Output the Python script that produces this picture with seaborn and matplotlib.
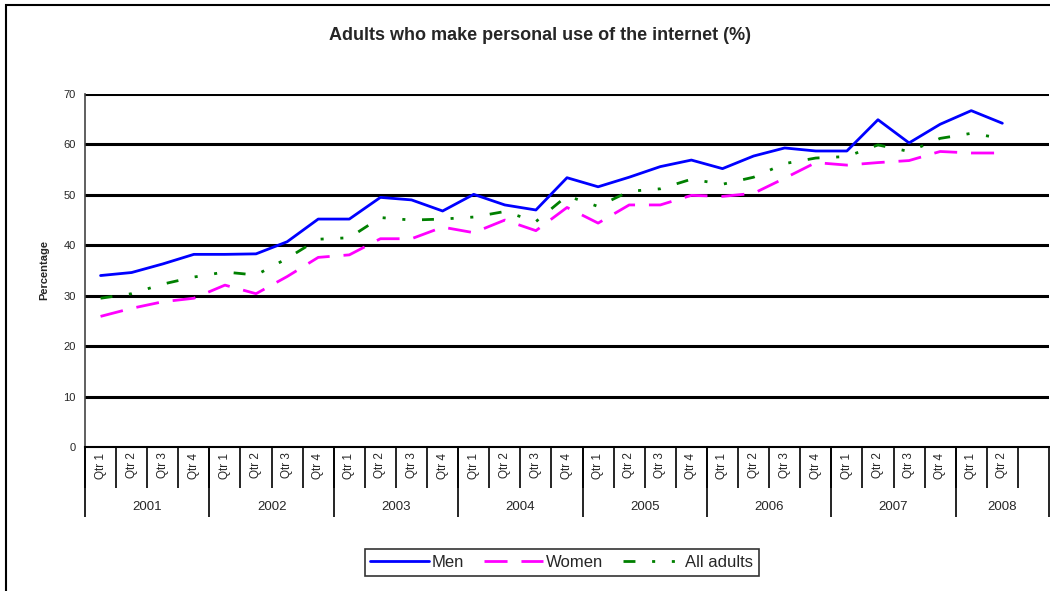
import numpy as np
import pandas as pd
import matplotlib
matplotlib.use("Agg")
import matplotlib.pyplot as plt
from matplotlib.patches import Rectangle
import seaborn as sns

# 数据
quarters = ["Qtr 1", "Qtr 2", "Qtr 3", "Qtr 4"] * 7 + ["Qtr 1", "Qtr 2"]
years = ["2001", "2002", "2003", "2004", "2005", "2006", "2007", "2008"]
men = [34.0, 34.6, 36.3, 38.2, 38.2, 38.3, 40.7, 45.2, 45.2, 49.5, 49.0, 46.8,
       50.1, 48.0, 47.0, 53.4, 51.6, 53.5, 55.6, 56.9, 55.2, 57.7, 59.3, 58.7,
       58.7, 64.9, 60.3, 64.0, 66.7, 64.2]
women = [25.9, 27.5, 28.8, 29.5, 32.1, 30.4, 33.8, 37.6, 38.1, 41.3, 41.3, 43.6,
         42.5, 45.0, 42.9, 47.5, 44.4, 48.0, 48.0, 49.9, 49.7, 50.3, 53.3, 56.4,
         55.9, 56.4, 56.8, 58.6, 58.3, 58.3]
all_adults = [29.5, 30.4, 32.3, 33.7, 34.7, 34.1, 37.4, 41.2, 41.5, 45.5, 45.0, 45.2,
              45.6, 46.7, 44.7, 49.8, 47.7, 50.7, 51.2, 53.1, 52.1, 53.5, 56.2, 57.3,
              57.6, 59.9, 58.6, 61.2, 62.2, 61.2]
series_names = ["Men", "Women", "All adults"]

n = len(quarters)
n_slots = n + 1  # 2008 组占三个位置，最后一个为空

df = pd.DataFrame({
    "idx": np.tile(np.arange(n), 3),
    "value": men + women + all_adults,
    "series": np.repeat(series_names, n),
})

sns.set_style("white")
plt.rcParams["font.family"] = ["Liberation Sans", "DejaVu Sans"]

fig = plt.figure(figsize=(10.5, 5.91), dpi=100)
ax = fig.add_axes([85 / 1050, 1 - 447 / 591, 964 / 1050, 353 / 591])

palette = {"Men": "#0000FF", "Women": "#FF00FF", "All adults": "#008000"}
dashes = {"Men": "", "Women": (8.3, 5), "All adults": (4.3, 6, 1.1, 6, 1.1, 6)}
sns.lineplot(data=df, x="idx", y="value", hue="series", style="series",
             palette=palette, dashes=dashes, linewidth=2, ax=ax)

ax.set_xlim(-0.5, n_slots - 0.5)
ax.set_ylim(0, 70)

# 网格线
ax.set_yticks(np.arange(0, 71, 10))
for v in np.arange(10, 71, 10):
    ax.axhline(v, color="black", lw=2.2, zorder=0.5)
ax.tick_params(axis="y", direction="out", length=3.6, width=1, color="#333333",
               labelsize=8, pad=3)
ax.set_ylabel("Percentage", fontsize=8, fontweight="bold", labelpad=10)

for s in ["top", "right"]:
    ax.spines[s].set_visible(False)
ax.spines["left"].set_color("#444444")
ax.spines["left"].set_linewidth(1.2)
ax.spines["bottom"].set_color("black")
ax.spines["bottom"].set_linewidth(1.5)

# 季度标签
ax.set_xticks(np.arange(-0.5, n, 1.0))
ax.set_xticklabels([])
ax.set_xticks(np.arange(n), minor=True)
ax.set_xticklabels(quarters, minor=True, rotation=90, fontsize=8.5)
ax.tick_params(axis="x", which="major", direction="out", length=29.5, width=1.2,
               color="black", bottom=True)
ax.tick_params(axis="x", which="minor", length=0, pad=4, bottom=True)
ax.set_xlabel("")

# 年份标签
starts = [i for i, q in enumerate(quarters) if q == "Qtr 1"]
bounds = [s - 0.5 for s in starts] + [n_slots - 0.5]
centers = [(a + b) / 2 for a, b in zip(bounds[:-1], bounds[1:])]
sec = ax.secondary_xaxis("bottom")
sec.spines["bottom"].set_visible(False)
sec.set_xticks(bounds)
sec.set_xticklabels([])
sec.set_xticks(centers, minor=True)
sec.set_xticklabels(years, minor=True, fontsize=9.5)
sec.tick_params(axis="x", which="major", direction="out", length=50.4, width=1.2,
                color="black")
sec.tick_params(axis="x", which="minor", length=0, pad=39)

# 图例
handles, labels = ax.get_legend_handles_labels()
ax.legend(handles, labels, loc="lower center", bbox_to_anchor=(0.535, 0.012),
          bbox_transform=fig.transFigure, ncol=3, frameon=True, fancybox=False,
          edgecolor="black", fontsize=12, handlelength=3.5, columnspacing=1.2,
          handletextpad=0.2, borderpad=0.35)
ax.get_legend().get_frame().set_linewidth(1.2)

fig.text(0.514, 0.94, "Adults who make personal use of the internet (%)",
         ha="center", va="center", fontsize=13, fontweight="bold")

# 外框
fig.patches.append(Rectangle((6 / 1050, -0.5), 2, 0.9915 + 0.5, transform=fig.transFigure,
                             fill=False, edgecolor="black", lw=1.5))

fig.savefig("out.png", dpi=100)
